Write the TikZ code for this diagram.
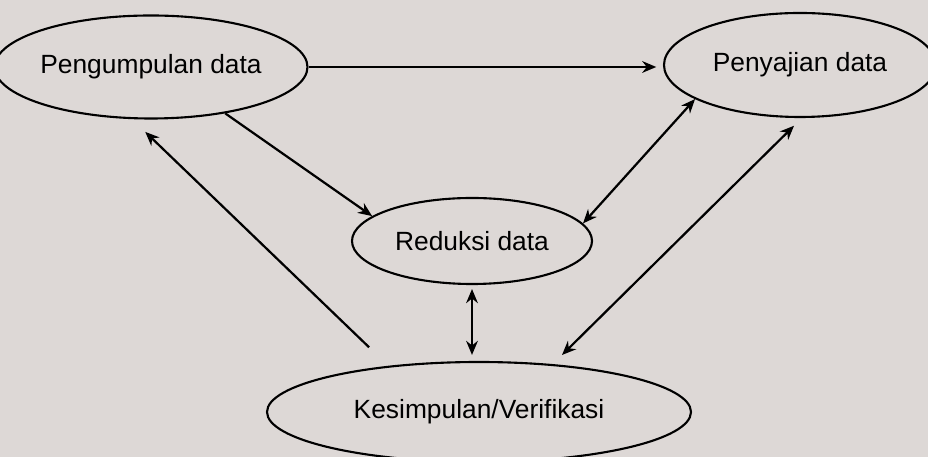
\documentclass[tikz,border=0pt]{standalone}
\usepackage{fontspec}
\setmainfont{Liberation Sans}
\usetikzlibrary{shapes.geometric,arrows.meta}
\definecolor{paper}{RGB}{221,216,214}
\begin{document}
\begin{tikzpicture}[x=0.03cm,y=0.03cm,
        stage/.style={draw,ellipse,line width=1.8pt,inner sep=0pt,font=\fontsize{22.5}{26}\selectfont},
        arr/.style={line width=1.9pt,-{Stealth[length=12pt,width=10pt]}},
        dbl/.style={line width=1.9pt,{Stealth[length=12pt,width=10pt]}-{Stealth[length=12pt,width=10pt]}}]
        \fill[paper] (0,0) rectangle (928,457); % page
        \useasboundingbox (0,0) rectangle (928,457);
        \clip (0,0) rectangle (928,457);
        \node[stage,minimum width=8.46cm,minimum height=3.09cm] (peng) at (151,390) {Pengumpulan data};
        \node[stage,minimum width=8.16cm,minimum height=3.12cm] (peny) at (800,392) {Penyajian data};
        \node[stage,minimum width=7.2cm,minimum height=2.58cm] (red) at (472,216) {Reduksi data};
        \node[stage,minimum width=12.72cm,minimum height=3cm] (kes) at (479,45) {Kesimpulan/Verifikasi};
        \draw[arr,shorten >=0.2cm] (peng.east) -- (peng.east -| peny.west);
        \draw[arr] (peng.-32) -- (red.166);
        \draw[arr,shorten <=0.8cm,shorten >=0.55cm] (kes.153) -- (peng.250);
        \draw[dbl] (red.9) -- (peny.-162);
        \draw[dbl,shorten <=0.39cm,shorten >=0.33cm] (kes.33) -- (peny.-88);
        \draw[dbl,shorten <=0.12cm,shorten >=0.18cm] (red.south) -- (red.south |- kes.north);
    \end{tikzpicture}
\end{document}
